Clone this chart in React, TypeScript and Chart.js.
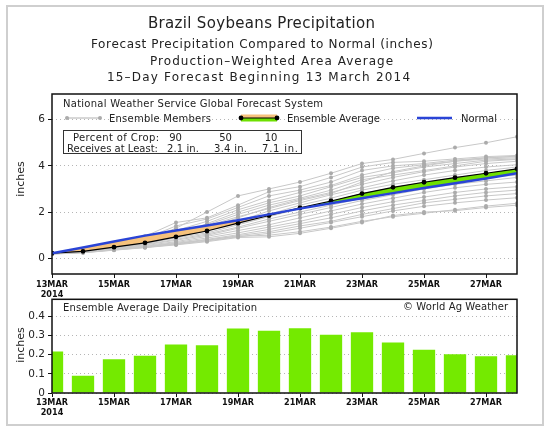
import React, { useEffect, useRef } from 'react';
import { Chart, registerables } from 'chart.js';

Chart.register(...registerables);

// ---------------- data ----------------
const DAYS = [13, 14, 15, 16, 17, 18, 19, 20, 21, 22, 23, 24, 25, 26, 27, 28];
const TICK_DAYS = [13, 15, 17, 19, 21, 23, 25, 27];
const MONTH = 'MAR';
const YEAR = '2014';

const NORMAL = [0.22, 0.47, 0.73, 0.98, 1.2, 1.42, 1.65, 1.9, 2.15, 2.38, 2.6, 2.82, 3.04, 3.25, 3.45, 3.68];
const ENSEMBLE_AVG = [0.22, 0.3, 0.48, 0.67, 0.93, 1.18, 1.52, 1.85, 2.18, 2.48, 2.8, 3.07, 3.29, 3.49, 3.68, 3.87];
const DAILY_AVG = [0.217, 0.09, 0.176, 0.195, 0.254, 0.25, 0.337, 0.326, 0.338, 0.304, 0.318, 0.264, 0.226, 0.202, 0.192, 0.197];

const MEMBER_01 = [0.2, 0.3, 0.5, 0.8, 1.3, 2.0, 2.7, 3.0, 3.3, 3.68, 4.1, 4.28, 4.54, 4.79, 5.0, 5.26];
const MEMBER_02 = [0.22, 0.35, 0.55, 0.95, 1.55, 1.75, 2.3, 2.88, 3.1, 3.5, 3.95, 4.15, 4.2, 4.3, 4.4, 4.45];
const MEMBER_03 = [0.2, 0.32, 0.5, 0.85, 1.4, 1.7, 2.2, 2.7, 2.95, 3.3, 3.8, 4.0, 4.1, 4.25, 4.35, 4.4];
const MEMBER_04 = [0.21, 0.3, 0.52, 0.9, 1.2, 1.6, 2.1, 2.5, 2.85, 3.15, 3.6, 3.9, 4.05, 4.2, 4.3, 4.35];
const MEMBER_05 = [0.2, 0.28, 0.45, 0.7, 1.0, 1.5, 2.0, 2.4, 2.7, 3.1, 3.5, 3.7, 3.95, 4.1, 4.25, 4.3];
const MEMBER_06 = [0.23, 0.33, 0.48, 0.75, 1.1, 1.45, 1.9, 2.3, 2.6, 2.95, 3.4, 3.6, 3.8, 4.0, 4.2, 4.28];
const MEMBER_07 = [0.2, 0.29, 0.46, 0.68, 0.95, 1.3, 1.75, 2.2, 2.55, 2.85, 3.2, 3.5, 3.75, 3.95, 4.1, 4.2];
const MEMBER_08 = [0.19, 0.27, 0.42, 0.62, 0.9, 1.2, 1.6, 2.05, 2.4, 2.75, 3.05, 3.35, 3.6, 3.8, 3.95, 4.05];
const MEMBER_09 = [0.21, 0.31, 0.5, 0.72, 0.98, 1.25, 1.55, 1.9, 2.3, 2.6, 2.95, 3.2, 3.4, 3.6, 3.8, 3.95];
const MEMBER_10 = [0.2, 0.3, 0.47, 0.66, 0.88, 1.1, 1.45, 1.8, 2.15, 2.45, 2.8, 3.05, 3.3, 3.5, 3.65, 3.8];
const MEMBER_11 = [0.22, 0.3, 0.44, 0.6, 0.82, 1.05, 1.35, 1.7, 2.0, 2.3, 2.6, 2.9, 3.15, 3.35, 3.5, 3.6];
const MEMBER_12 = [0.2, 0.28, 0.43, 0.58, 0.78, 1.0, 1.3, 1.6, 1.9, 2.2, 2.5, 2.75, 3.0, 3.2, 3.35, 3.5];
const MEMBER_13 = [0.19, 0.26, 0.4, 0.55, 0.72, 0.95, 1.2, 1.45, 1.75, 2.05, 2.35, 2.6, 2.85, 3.05, 3.2, 3.3];
const MEMBER_14 = [0.2, 0.27, 0.41, 0.52, 0.68, 0.88, 1.1, 1.35, 1.6, 1.9, 2.2, 2.45, 2.65, 2.85, 3.0, 3.1];
const MEMBER_15 = [0.21, 0.29, 0.39, 0.5, 0.65, 0.82, 1.02, 1.25, 1.5, 1.75, 2.05, 2.3, 2.5, 2.7, 2.85, 2.95];
const MEMBER_16 = [0.2, 0.25, 0.37, 0.48, 0.62, 0.78, 0.98, 1.15, 1.4, 1.6, 1.9, 2.15, 2.4, 2.55, 2.7, 2.8];
const MEMBER_17 = [0.18, 0.24, 0.36, 0.47, 0.6, 0.75, 0.93, 1.08, 1.3, 1.55, 1.8, 2.05, 2.25, 2.4, 2.52, 2.62];
const MEMBER_18 = [0.2, 0.26, 0.38, 0.5, 0.63, 0.8, 0.95, 1.0, 1.15, 1.35, 1.6, 1.8, 1.95, 2.1, 2.26, 2.38];
const MEMBER_19 = [0.19, 0.24, 0.35, 0.46, 0.58, 0.72, 0.9, 0.93, 1.08, 1.3, 1.55, 1.85, 2.0, 2.06, 2.2, 2.3];
const MEMBER_20 = [0.22, 0.32, 0.52, 0.78, 1.05, 1.4, 1.8, 2.15, 2.5, 2.8, 3.3, 3.75, 4.0, 4.2, 4.35, 4.42];
const MEMBERS = [
  MEMBER_01, MEMBER_02, MEMBER_03, MEMBER_04, MEMBER_05, MEMBER_06, MEMBER_07, MEMBER_08, MEMBER_09, MEMBER_10,
  MEMBER_11, MEMBER_12, MEMBER_13, MEMBER_14, MEMBER_15, MEMBER_16, MEMBER_17, MEMBER_18, MEMBER_19, MEMBER_20,
];

const Y_TICKS_TOP = [0, 2, 4, 6];
const Y_TICKS_BOTTOM = [0, 0.1, 0.2, 0.3, 0.4];

const TITLE_LINES = [
  'Brazil Soybeans Precipitation',
  'Forecast Precipitation Compared to Normal (inches)',
  'Production–Weighted Area Average',
  '15–Day Forecast Beginning 13 March 2014',
];
const SOURCE_TEXT = 'National Weather Service Global Forecast System';
const LEGEND_MEMBERS = 'Ensemble Members';
const LEGEND_AVG = 'Ensemble Average';
const LEGEND_NORMAL = 'Normal';
const CROP_ROW1 = ['Percent of Crop:', '90', '50', '10'];
const CROP_ROW2 = ['Receives at Least:', '2.1 in.', '3.4 in.', '7.1 in.'];
const BOTTOM_TITLE = 'Ensemble Average Daily Precipitation';
const COPYRIGHT = '© World Ag Weather';
const Y_TITLE = 'inches';

// ---------------- styles ----------------
const FONT = '"DejaVu Sans", "Liberation Sans", sans-serif';
const TICK_FONT_FAMILY = '"Liberation Sans Narrow", "DejaVu Sans Condensed", "Liberation Sans", sans-serif';
const TEXT = '#222222';
const GREEN = '#6ee000';
const BAR_GREEN = '#74ea00';
const ORANGE = '#f6c27c';
const BLUE = '#2a44d6';
const MEMBER_LINE = '#c8c8c8';
const MEMBER_DOT = '#ababab';

// draws text centred in [left, right] with a small, clamped letter spacing so its width matches
function fitText(ctx: CanvasRenderingContext2D, text: string, left: number, right: number, baseline: number, font: string, color = TEXT) {
  ctx.save();
  ctx.font = font;
  ctx.fillStyle = color;
  ctx.textAlign = 'left';
  ctx.textBaseline = 'alphabetic';
  const w = ctx.measureText(text).width;
  const n = text.length;
  let ls = 0;
  if ('letterSpacing' in ctx && n > 3) {
    ls = Math.max(-0.8, Math.min(1.2, (right - left - w) / (n - 1)));
    (ctx as any).letterSpacing = ls.toFixed(2) + 'px';
  }
  const total = w + (n - 1) * ls;
  ctx.fillText(text, (left + right) / 2 - total / 2, baseline);
  ctx.restore();
}

function drawYTitle(ctx: CanvasRenderingContext2D, cx: number, cy: number) {
  ctx.save();
  ctx.translate(cx, cy);
  ctx.rotate(-Math.PI / 2);
  ctx.font = `11px ${FONT}`;
  ctx.fillStyle = TEXT;
  ctx.textAlign = 'center';
  ctx.textBaseline = 'middle';
  ctx.fillText(Y_TITLE, 0, 0);
  ctx.restore();
}

function dayLabel(v: number): string | string[] {
  return v === DAYS[0] ? [`${v}${MONTH}`, YEAR] : `${v}${MONTH}`;
}

const topDecor = {
  id: 'topDecor',
  afterDraw(chart: any) {
    const ctx: CanvasRenderingContext2D = chart.ctx;
    const a = chart.chartArea;
    // titles
    fitText(ctx, TITLE_LINES[0], 148, 375, 28, `15px ${FONT}`);
    fitText(ctx, TITLE_LINES[1], 91, 433, 47.5, `12px ${FONT}`);
    fitText(ctx, TITLE_LINES[2], 150, 393, 64.5, `12px ${FONT}`);
    fitText(ctx, TITLE_LINES[3], 104, 413, 81, `12px ${FONT}`);
    // border
    ctx.save();
    ctx.strokeStyle = '#111';
    ctx.lineWidth = 1.5;
    ctx.strokeRect(a.left, a.top, a.right - a.left, a.bottom - a.top);
    ctx.restore();
    drawYTitle(ctx, 21, 179);
    // legend
    const lf = `10px ${FONT}`;
    fitText(ctx, SOURCE_TEXT, 63, 323, 107, lf);
    // members symbol
    ctx.save();
    ctx.strokeStyle = '#b0b0b0';
    ctx.lineWidth = 1;
    ctx.beginPath();
    ctx.moveTo(67, 118);
    ctx.lineTo(100, 118);
    ctx.stroke();
    ctx.fillStyle = MEMBER_DOT;
    for (const x of [67, 100]) {
      ctx.beginPath();
      ctx.arc(x, 118, 2, 0, Math.PI * 2);
      ctx.fill();
    }
    ctx.restore();
    fitText(ctx, LEGEND_MEMBERS, 109, 211, 121.5, lf);
    // ensemble average symbol
    ctx.save();
    ctx.fillStyle = ORANGE;
    ctx.fillRect(241, 114.5, 36, 3.5);
    ctx.fillStyle = GREEN;
    ctx.fillRect(241, 118, 36, 3.5);
    ctx.strokeStyle = '#000';
    ctx.lineWidth = 1.2;
    ctx.beginPath();
    ctx.moveTo(241, 118);
    ctx.lineTo(277, 118);
    ctx.stroke();
    ctx.fillStyle = '#000';
    for (const x of [241, 277]) {
      ctx.beginPath();
      ctx.arc(x, 118, 2.4, 0, Math.PI * 2);
      ctx.fill();
    }
    ctx.restore();
    fitText(ctx, LEGEND_AVG, 287, 380, 121.5, lf);
    // normal symbol
    ctx.save();
    ctx.strokeStyle = BLUE;
    ctx.lineWidth = 2.5;
    ctx.beginPath();
    ctx.moveTo(417, 118);
    ctx.lineTo(452, 118);
    ctx.stroke();
    ctx.restore();
    fitText(ctx, LEGEND_NORMAL, 461, 497, 121.5, lf);
    // crop box
    ctx.save();
    ctx.strokeStyle = '#333';
    ctx.lineWidth = 1;
    ctx.strokeRect(63.5, 130.5, 238, 23);
    ctx.restore();
    fitText(ctx, CROP_ROW1[0], 73, 159, 140.5, lf);
    fitText(ctx, CROP_ROW1[1], 168, 183, 140.5, lf);
    fitText(ctx, CROP_ROW1[2], 219, 232, 140.5, lf);
    fitText(ctx, CROP_ROW1[3], 265, 277, 140.5, lf);
    fitText(ctx, CROP_ROW2[0], 67, 158, 151.5, lf);
    fitText(ctx, CROP_ROW2[1], 167, 199, 151.5, lf);
    fitText(ctx, CROP_ROW2[2], 214, 247, 151.5, lf);
    fitText(ctx, CROP_ROW2[3], 262, 298, 151.5, lf);
  },
};

const bottomDecor = {
  id: 'bottomDecor',
  afterDraw(chart: any) {
    const ctx: CanvasRenderingContext2D = chart.ctx;
    const a = chart.chartArea;
    ctx.save();
    ctx.strokeStyle = '#111';
    ctx.lineWidth = 1.5;
    ctx.strokeRect(a.left, a.top, a.right - a.left, a.bottom - a.top);
    ctx.restore();
    drawYTitle(ctx, 21, 345 - 290);
    const lf = `10px ${FONT}`;
    fitText(ctx, BOTTOM_TITLE, 63, 257, 310.5 - 290, lf);
    fitText(ctx, COPYRIGHT, 403, 508, 310 - 290, lf);
  },
};

const xTickFont = { family: TICK_FONT_FAMILY, size: 9, weight: 'bold' as const, lineHeight: 1.05 };
const yTickFont = { family: FONT, size: 10.5 };

export default function App() {
  const topRef = useRef<HTMLCanvasElement>(null);
  const bottomRef = useRef<HTMLCanvasElement>(null);

  useEffect(() => {
    const toXY = (arr: number[]) => DAYS.map((d, i) => ({ x: d, y: arr[i] }));

    const top = new Chart(topRef.current as HTMLCanvasElement, {
      type: 'line',
      data: {
        datasets: [
          {
            label: LEGEND_NORMAL,
            data: toXY(NORMAL),
            borderColor: BLUE,
            borderWidth: 2.5,
            pointRadius: 0,
            tension: 0,
            fill: false,
          },
          {
            label: LEGEND_AVG,
            data: toXY(ENSEMBLE_AVG),
            borderColor: '#000',
            borderWidth: 1.2,
            pointRadius: 2.4,
            pointBackgroundColor: '#000',
            pointBorderWidth: 0,
            tension: 0,
            fill: { target: 0, above: GREEN, below: ORANGE },
          },
          ...MEMBERS.map((m, k) => ({
            label: `Member ${k + 1}`,
            data: toXY(m),
            borderColor: MEMBER_LINE,
            borderWidth: 1,
            pointRadius: 2,
            pointBackgroundColor: MEMBER_DOT,
            pointBorderWidth: 0,
            tension: 0,
            fill: false,
          })),
        ],
      },
      options: {
        responsive: false,
        animation: false,
        events: [],
        layout: { padding: { top: 94, right: 33, left: 0, bottom: 0 } },
        plugins: {
          legend: { display: false },
          tooltip: { enabled: false },
        },
        scales: {
          x: {
            type: 'linear',
            min: DAYS[0],
            max: DAYS[DAYS.length - 1],
            afterBuildTicks: (s: any) => { s.ticks = TICK_DAYS.map((v) => ({ value: v })); },
            afterFit: (s: any) => { s.height = 26; },
            grid: { drawOnChartArea: false, tickLength: 4, color: '#111', lineWidth: 1 },
            border: { display: false },
            ticks: { callback: (v: any) => dayLabel(Number(v)), font: xTickFont, color: '#111', padding: 2, maxRotation: 0, autoSkip: false },
          },
          y: {
            type: 'linear',
            min: -0.68,
            max: 7.11,
            afterBuildTicks: (s: any) => { s.ticks = Y_TICKS_TOP.map((v) => ({ value: v })); },
            afterFit: (s: any) => { s.width = 52; },
            grid: { color: '#b5b5b5', tickColor: '#111', tickLength: 4, lineWidth: 1 },
            border: { display: false, dash: [1, 3] },
            ticks: { callback: (v: any) => String(v), font: yTickFont, color: TEXT, padding: 3 },
          },
        },
      },
      plugins: [topDecor],
    } as any);

    const bottom = new Chart(bottomRef.current as HTMLCanvasElement, {
      type: 'bar',
      data: {
        datasets: [
          {
            label: BOTTOM_TITLE,
            data: toXY(DAILY_AVG),
            backgroundColor: BAR_GREEN,
            borderWidth: 0,
            barPercentage: 0.9,
            categoryPercentage: 0.8,
          },
        ],
      },
      options: {
        responsive: false,
        animation: false,
        events: [],
        layout: { padding: { top: 8, right: 33, left: 0, bottom: 0 } },
        plugins: { legend: { display: false }, tooltip: { enabled: false } },
        scales: {
          x: {
            type: 'linear',
            min: DAYS[0],
            max: DAYS[DAYS.length - 1],
            offset: false,
            afterBuildTicks: (s: any) => { s.ticks = TICK_DAYS.map((v) => ({ value: v })); },
            afterFit: (s: any) => { s.height = 39; },
            grid: { offset: false, drawOnChartArea: false, tickLength: 4, color: '#111', lineWidth: 1 },
            border: { display: false },
            ticks: { callback: (v: any) => dayLabel(Number(v)), font: xTickFont, color: '#111', padding: 1, maxRotation: 0, autoSkip: false },
          },
          y: {
            type: 'linear',
            min: 0,
            max: 0.49,
            afterBuildTicks: (s: any) => { s.ticks = Y_TICKS_BOTTOM.map((v) => ({ value: v })); },
            afterFit: (s: any) => { s.width = 52; },
            grid: { color: '#b5b5b5', tickColor: '#111', tickLength: 4, lineWidth: 1 },
            border: { display: false, dash: [1, 3] },
            ticks: { callback: (v: any) => String(v), font: yTickFont, color: TEXT, padding: 3 },
          },
        },
      },
      plugins: [bottomDecor],
    } as any);

    return () => {
      top.destroy();
      bottom.destroy();
    };
  }, []);

  return (
    <div style={{ position: 'fixed', left: 0, top: 0, width: 550, height: 432, background: '#fff', overflow: 'hidden' }}>
      <div style={{ position: 'absolute', left: 6, top: 5, width: 538, height: 421, border: '2px solid #cfcfcf', boxSizing: 'border-box' }} />
      <canvas ref={topRef} width={550} height={300} style={{ position: 'absolute', left: 0, top: 0, width: 550, height: 300 }} />
      <canvas ref={bottomRef} width={550} height={142} style={{ position: 'absolute', left: 0, top: 290, width: 550, height: 142 }} />
    </div>
  );
}
